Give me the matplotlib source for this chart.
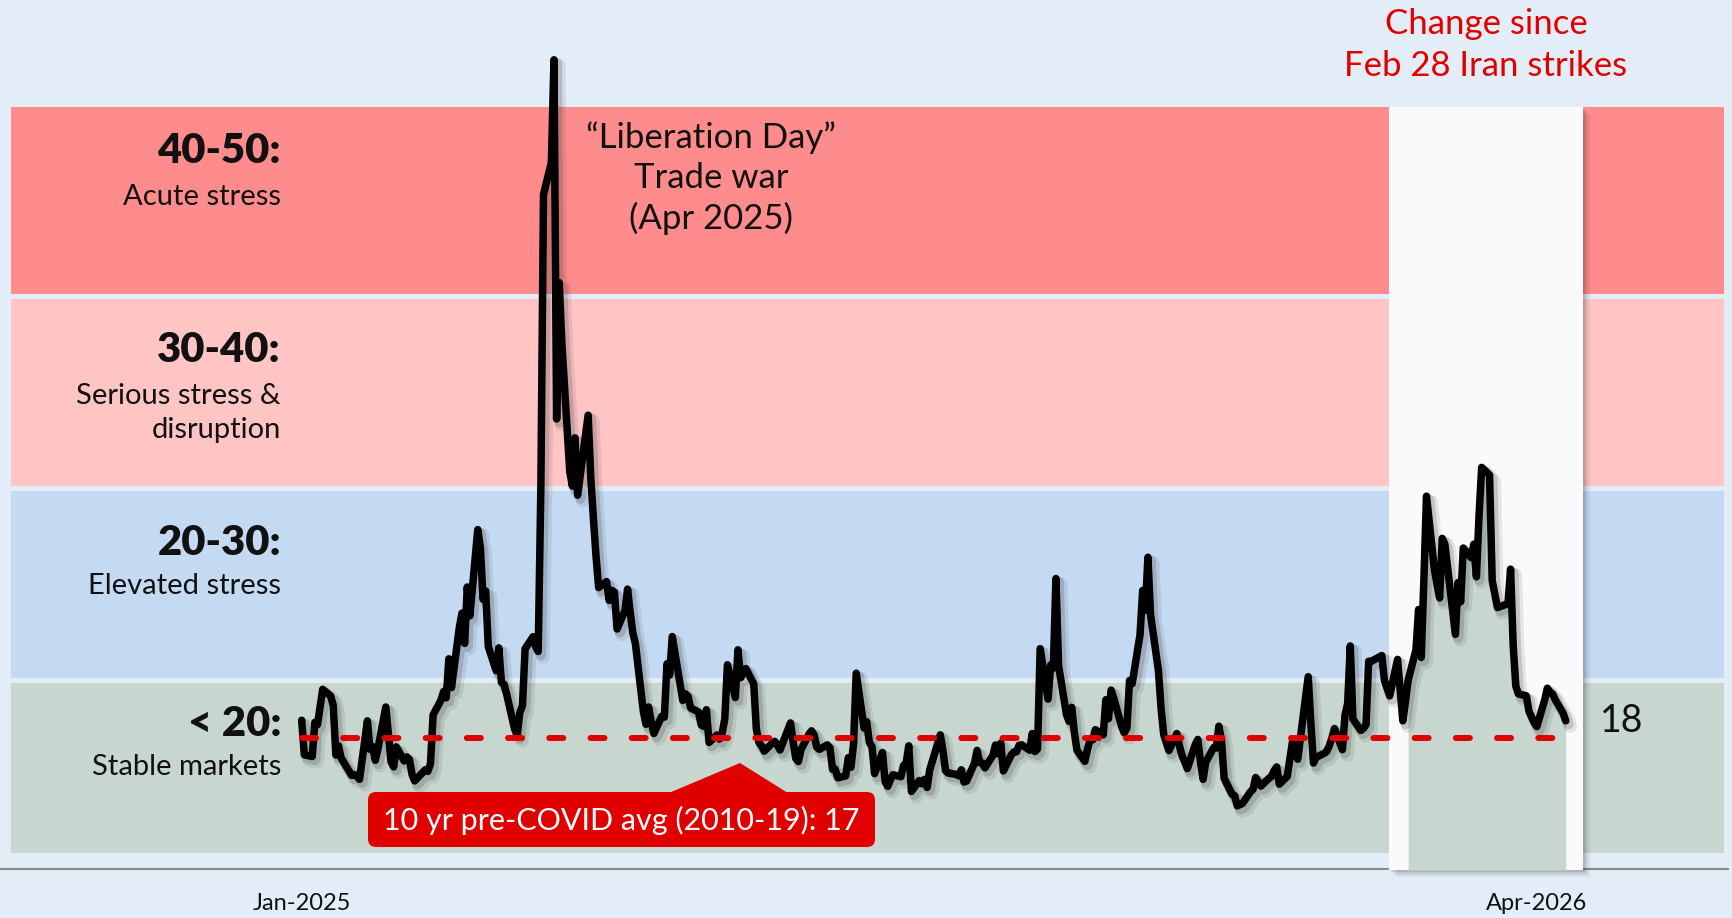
import numpy as np
import pandas as pd
import matplotlib
matplotlib.use("Agg")
import matplotlib.pyplot as plt
import matplotlib.dates as mdates
import matplotlib.patheffects as pe
from matplotlib.patches import FancyBboxPatch, Polygon, Rectangle
from matplotlib.transforms import IdentityTransform

# --- VIX daily closes, one list per month (trading days only) ---
vix_2025_jan = [17.93, 16.13, 16.04, 17.82, 17.70, 19.54, 19.19, 18.71, 16.12, 16.60,
                15.97, 15.06, 15.10, 15.02, 14.85, 17.90, 16.41, 16.56, 15.84, 16.43]
vix_2025_feb = [18.62, 17.21, 15.77, 15.50, 16.54, 15.81, 16.02, 15.89, 15.10, 14.77,
                15.35, 15.27, 15.66, 18.21, 18.98, 19.43, 19.10, 21.13, 19.63]
vix_2025_mar = [22.78, 23.51, 21.93, 24.87, 23.37, 27.86, 26.92, 24.23, 24.66, 21.77,
                20.51, 21.70, 19.90, 19.80, 19.28, 17.48, 17.15, 18.33, 18.69, 21.65, 22.28]
vix_2025_apr = [21.77, 21.51, 30.02, 45.31, 46.98, 52.33, 33.62, 40.72, 37.56, 30.89,
                30.12, 32.64, 29.65, 33.82, 30.57, 28.45, 26.47, 24.84, 25.15, 24.17, 24.70]
vix_2025_may = [24.60, 22.68, 23.64, 24.76, 23.55, 22.48, 21.90, 18.39, 17.72, 18.62,
                17.83, 17.24, 18.14, 18.09, 20.87, 20.28, 22.29, 18.96, 19.31, 19.18, 18.57]
vix_2025_jun = [18.36, 17.69, 17.61, 18.48, 16.77, 17.16, 16.95, 17.26, 18.02, 20.82,
                19.11, 21.60, 20.14, 20.62, 19.83, 17.48, 16.76, 16.59, 16.32, 16.73]
vix_2025_jul = [16.83, 16.64, 16.38, 17.79, 16.81, 15.94, 15.78, 16.40, 17.20, 17.38, 17.16,
                16.52, 16.41, 16.65, 16.50, 15.37, 15.39, 14.93, 15.03, 15.98, 15.48, 16.72]
vix_2025_aug = [20.38, 17.52, 17.85, 16.77, 16.57, 15.15, 16.25, 14.73, 14.49, 14.83, 15.09,
                14.99, 15.57, 15.69, 16.60, 14.22, 14.79, 14.62, 14.85, 14.43, 15.36]
vix_2025_sep = [17.17, 16.35, 15.30, 15.18, 15.11, 15.04, 15.35, 14.71, 14.76, 15.69, 16.36,
                15.72, 15.70, 15.45, 16.10, 16.64, 16.18, 16.74, 15.29, 16.12, 16.28]
vix_2025_oct = [16.29, 16.63, 16.65, 16.37, 17.24, 16.30, 16.43, 21.66, 19.03, 20.81, 20.64, 25.31,
                20.78, 18.23, 17.87, 18.60, 17.30, 16.37, 15.79, 16.42, 16.92, 16.91, 17.44]
vix_2025_nov = [17.17, 19.00, 18.01, 19.50, 19.08, 17.60, 17.28, 17.51, 20.00, 19.83,
                22.38, 24.69, 23.66, 26.42, 23.43, 20.52, 18.56, 17.19, 16.35]
vix_2025_dec = [17.24, 16.59, 16.08, 15.78, 15.41, 16.66, 16.93, 15.77, 14.85, 15.74, 16.50,
                16.48, 17.62, 16.87, 14.91, 14.08, 14.00, 13.47, 13.60, 14.20, 14.33, 14.95]
vix_2026_jan = [14.5, 14.9, 15.0, 15.3, 15.5, 14.6, 15.0, 15.9, 16.8, 16.4,
                15.9, 20.2, 17.8, 15.7, 16.0, 16.2, 16.3, 16.6, 17.0, 17.5]
vix_2026_feb = [16.4, 18.2, 18.8, 21.8, 18.0, 17.4, 17.5, 17.7, 21.0, 21.0,
                21.3, 20.0, 19.6, 19.2, 21.1, 19.5, 17.9, 18.9, 20.0]
vix_2026_mar = [21.6, 23.7, 21.2, 25.2, 29.6, 25.8, 25.0, 24.3, 27.4, 27.1, 23.6,
                22.4, 25.1, 24.1, 26.9, 26.4, 27.1, 25.4, 28.6, 31.1, 30.7, 25.2]
vix_2026_apr = [24.5, 23.8, 24.0, 25.8, 21.8, 19.7, 19.3, 19.2, 18.4, 18.1,
                17.8, 17.6, 19.0, 19.6, 19.4, 19.3, 19.0, 18.3, 17.9]

market_holidays = ["2025-01-09", "2025-01-20", "2025-02-17", "2025-04-18", "2025-05-26",
                   "2025-06-19", "2025-07-04", "2025-09-01", "2025-11-27", "2025-12-25",
                   "2026-01-01", "2026-01-19", "2026-02-16", "2026-04-03"]

pre_covid_avg = 17
strike_start = "2026-02-27"      # last close before the Feb 28 strikes
tick_dates = ["2025-01-02", "2026-04-17"]

zone_edges = [11, 20, 30, 40, 50]
zone_titles = ["< 20:", "20-30:", "30-40:", "40-50:"]
zone_notes = [["Stable markets"], ["Elevated stress"],
              ["Serious stress &", "disruption"], ["Acute stress"]]

# --- colours / layout ---
BG = "#e3edf8"
ZONE_COLORS = ["#c7d7cf", "#c4daf2", "#ffc5c5", "#ff8c8c"]
RED = "#e00000"
INK = "#111111"
FONT = "Lato"

W, H = 1733, 918
plt.rcParams["font.family"] = [FONT, "DejaVu Sans"]

dates = pd.bdate_range("2025-01-02", "2026-04-28")
dates = dates[~dates.isin(pd.to_datetime(market_holidays))]
vix = np.array(vix_2025_jan + vix_2025_feb + vix_2025_mar + vix_2025_apr + vix_2025_may
               + vix_2025_jun + vix_2025_jul + vix_2025_aug + vix_2025_sep + vix_2025_oct
               + vix_2025_nov + vix_2025_dec + vix_2026_jan + vix_2026_feb + vix_2026_mar
               + vix_2026_apr)
n = min(len(dates), len(vix))
dates, vix = dates[:n], vix[:n]

fig = plt.figure(figsize=(W / 100, H / 100), dpi=100)
fig.patch.set_facecolor(BG)
ax = fig.add_axes([0, 0, 1, 1])
ax.set_facecolor(BG)
ax.axis("off")

# y: 20 sits at pixel row 680.5, 19.2 px per point
def v_at(py):
    return 20 - (py - 680.5) / 19.2

ax.set_ylim(v_at(H), v_at(0))
t0 = mdates.date2num(dates[0])
px_day = 2.628
ax.set_xlim(t0 - 301.7 / px_day, t0 + (W - 301.7) / px_day)

# stress zones
gap = 0.15
for i, (lo, hi) in enumerate(zip(zone_edges[:-1], zone_edges[1:])):
    ax.axhspan(lo + (gap if i > 0 else 0), hi - gap, xmin=11 / W, xmax=1724 / W,
               color=ZONE_COLORS[i], lw=0, zorder=1)

# axis baseline
ax.axhline(v_at(869), xmin=0, xmax=1728 / W, color="#8a8a8a", lw=1.5, zorder=1.5)

# highlight panel with soft shadow (pixel coordinates)
px_tf = IdentityTransform()
rx0, rx1, ry0, ry1 = 1389, 1583, 107, 870
for k, a in [(2, 0.10), (4, 0.07), (6, 0.05), (8, 0.03)]:
    ax.add_patch(Rectangle((rx0 + k, H - ry1 - k), rx1 - rx0, ry1 - ry0, transform=px_tf,
                           color="black", alpha=a, lw=0, zorder=2))
ax.add_patch(Rectangle((rx0, H - ry1), rx1 - rx0, ry1 - ry0, transform=px_tf,
                       color="#fafafa", lw=0, zorder=2.1))

mask = dates >= pd.Timestamp(strike_start)
ax.fill_between(dates[mask], vix[mask], v_at(870), color=ZONE_COLORS[0], lw=0, zorder=3)

# VIX line
shadow = [pe.SimpleLineShadow(offset=(2, -2.5), shadow_color="#303030", alpha=0.18, linewidth=7.5),
          pe.SimpleLineShadow(offset=(3.5, -4), shadow_color="#303030", alpha=0.10, linewidth=9.5),
          pe.Normal()]
ax.plot(dates, vix, color="black", lw=5.4, solid_joinstyle="round", solid_capstyle="round",
        zorder=4, path_effects=shadow)

# pre-COVID average
ax.plot([dates[0], dates[-1]], [pre_covid_avg, pre_covid_avg], color=RED, lw=4.3,
        dashes=(2.35, 4.55), dash_capstyle="round", zorder=5)

# callout box for the average
bx0, bx1, by0, by1 = 368, 875, 792, 847
ax.add_patch(FancyBboxPatch((bx0, H - by1), bx1 - bx0, by1 - by0, transform=px_tf,
                            boxstyle="round,pad=0,rounding_size=8", color=RED, lw=0, zorder=6))
ax.add_patch(Polygon([(664, H - 795), (740, H - 763), (791, H - 795)], closed=True,
                     transform=px_tf, color=RED, lw=0, zorder=6))


def ftext(px, py, s, **kw):
    fig.text(px / W, 1 - py / H, s, **kw)


ftext((bx0 + bx1) / 2, 820, f"10 yr pre-COVID avg (2010-19): {pre_covid_avg}",
      color="white", fontsize=22, ha="center", va="center", zorder=7)

# zone labels on the left
title_rows = [724, 543, 350, 151]
note_rows = [767, 586, 396, 197]
for title, notes, ty, ny in zip(zone_titles, zone_notes, title_rows, note_rows):
    ftext(281, ty, title, fontsize=30, fontweight="heavy", color=INK, ha="right", va="center")
    for j, line in enumerate(notes):
        ftext(281, ny + 34 * j, line, fontsize=21, color=INK, ha="right", va="center")

# event annotations
for j, line in enumerate(["\u201cLiberation Day\u201d", "Trade war", "(Apr 2025)"]):
    ftext(711, 138 + 40 * j, line, fontsize=25, color=INK, ha="center", va="center")
for j, line in enumerate(["Change since", "Feb 28 Iran strikes"]):
    ftext(1486, 24 + 42 * j, line, fontsize=25, color=RED, ha="center", va="center")

# latest value
ftext(1600, 721, f"{vix[-1]:.0f}", fontsize=27, color=INK, ha="left", va="center")

# x tick labels
for d in pd.to_datetime(tick_dates):
    ax.text(d, 1 - 904 / H, d.strftime("%b-%Y"), transform=ax.get_xaxis_transform(),
            fontsize=17, color=INK, ha="center", va="center")

fig.savefig("out.png", dpi=100, facecolor=BG)
